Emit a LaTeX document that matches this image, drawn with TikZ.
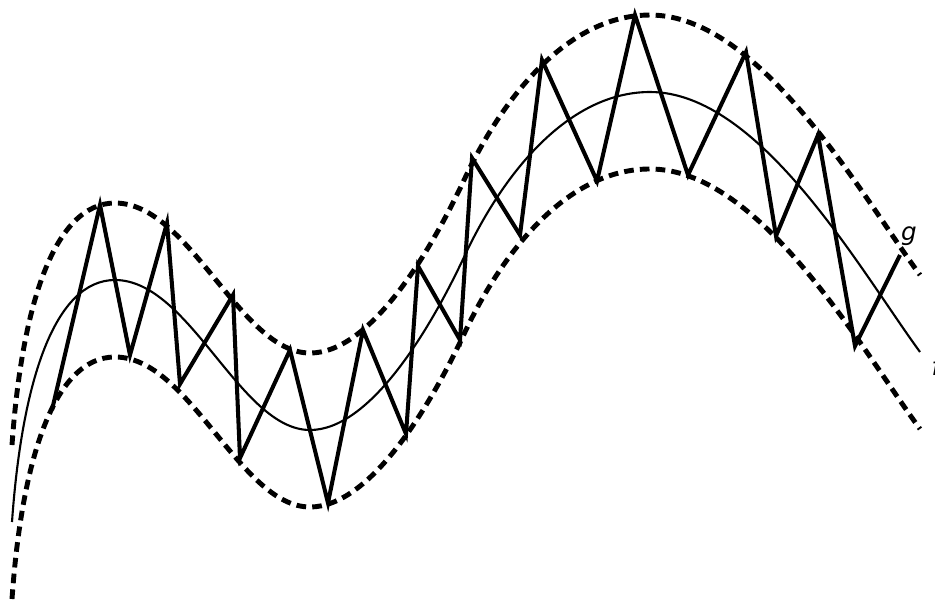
\documentclass[tikz,border=0pt]{standalone}
\usepackage{fontspec}
\setmainfont{DejaVu Sans}
\begin{document}
\begin{tikzpicture}[x=0.02cm,y=-0.02cm,
    fcurve/.style={line width=1.2pt},
    band/.style={line width=2.8pt,dash pattern=on 5.5pt off 3.5pt},
    zigzag/.style={line width=2.3pt,line join=miter},
    lbl/.style={font=\fontsize{14}{16}\selectfont\itshape,inner sep=1pt}]
  \clip (0,0) rectangle (935,599);
  % the function f
  \def\fpath{(12,522) .. controls (22,380) and (55,280) .. (115,280)
    .. controls (190,280) and (240,430) .. (310,430)
    .. controls (370,430) and (430,330) .. (465,255)
    .. controls (505,170) and (570,92) .. (650,92)
    .. controls (760,92) and (860,270) .. (920,352)}
  \draw[fcurve] \fpath;
  % epsilon band round f
  \draw[band,yshift=1.54cm] \fpath;
  \draw[band,yshift=-1.54cm] \fpath;
  % the function g
  \draw[zigzag] (52,410) -- (100,205) -- (130,355) -- (167,223) -- (180,384)
    -- (233,295) -- (240,458) -- (290,350) -- (328,503) -- (363,330)
    -- (406,434) -- (418,266) -- (460,340) -- (472,158) -- (520,235)
    -- (542,60) -- (597,181) -- (635,15) -- (688,175) -- (746,52)
    -- (776,236) -- (818,135) -- (855,346) -- (900,255);
  % labels
  \node[lbl] (glabel) at (909,236) {g};
  \node[lbl] (flabel) at (936,366) {f};
\end{tikzpicture}
\end{document}
